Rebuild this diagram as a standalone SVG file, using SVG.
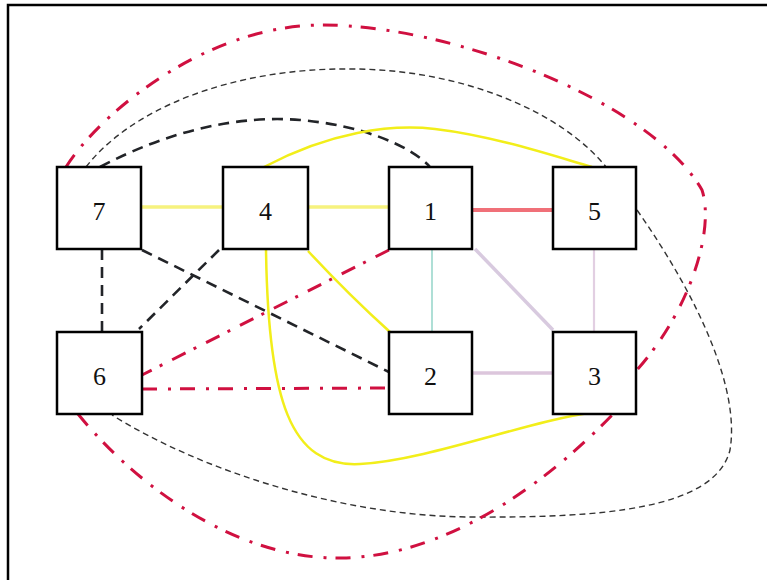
<svg xmlns="http://www.w3.org/2000/svg" width="767" height="580" viewBox="0 0 767 580">
  <style>
    .node rect { fill: #ffffff; stroke: #000000; stroke-width: 2.5; }
    .node text { font-family: "Liberation Serif", "Times New Roman", serif; font-size: 26px; fill: #111111; text-anchor: middle; }
    .edge { fill: none; }
    .yl { stroke: #f2ee1a; stroke-width: 2.5; }
    .ylp { stroke: #f6f27e; stroke-width: 3.5; }
    .rd { stroke: #d01040; stroke-width: 3; stroke-dasharray: 15 11 3 9; }
    .bk { stroke: #222428; stroke-width: 2.6; stroke-dasharray: 11 7; }
    .thin { stroke: #333333; stroke-width: 1.4; stroke-dasharray: 6 4; }
  </style>

  <rect x="0" y="0" width="767" height="580" fill="#ffffff"/>
  <!-- outer frame -->
  <rect x="8" y="5" width="780" height="600" fill="none" stroke="#000000" stroke-width="2.5"/>

  <g id="connectors">
    <!-- straight links between neighbouring boxes -->
    <line class="edge ylp" x1="142" y1="207" x2="223" y2="207"/>
    <line class="edge ylp" x1="308" y1="207" x2="389" y2="207"/>
    <line class="edge" x1="472" y1="210" x2="553" y2="210" stroke="#f07078" stroke-width="4"/>
    <line class="edge" x1="432" y1="249" x2="432" y2="332" stroke="#a6dcd2" stroke-width="1.8"/>
    <line class="edge" x1="594" y1="249" x2="594" y2="332" stroke="#e2cfe2" stroke-width="2.2"/>
    <line class="edge" x1="475" y1="249" x2="553" y2="330" stroke="#d8cadf" stroke-width="3.5"/>
    <line class="edge" x1="472" y1="373" x2="553" y2="373" stroke="#dcc6dc" stroke-width="3.5"/>

    <!-- black dashed links -->
    <line class="edge bk" x1="102" y1="249" x2="102" y2="332"/>
    <line class="edge bk" x1="142" y1="250" x2="389" y2="372"/>
    <line class="edge bk" x1="219" y1="250" x2="139" y2="329"/>
    <path class="edge bk" d="M100,167 C170,130 240,115 300,120 C360,125 410,145 430,167"/>

    <!-- thin dashed links -->
    <path class="edge thin" d="M86,167 C130,110 230,67 355,69 C460,70 560,110 606,167"/>
    <path class="edge thin" d="M637,210 C700,300 740,390 730,450 C715,510 600,518 470,517 C340,516 200,470 112,415"/>

    <!-- red dash-dot links -->
    <line class="edge rd" x1="389" y1="250" x2="142" y2="375"/>
    <line class="edge rd" x1="142" y1="389" x2="389" y2="388"/>
    <path class="edge rd" d="M66,167 C95,120 200,25 323,25 C450,25 650,100 702,190 C715,230 690,310 637,370"/>
    <path class="edge rd" d="M78,414 C140,490 240,560 342,558 C450,556 550,480 614,413"/>

    <!-- yellow curves -->
    <path class="edge yl" d="M264,167 C330,132 390,124 435,129 C495,136 560,158 592,167"/>
    <path class="edge yl" d="M308,251 C335,280 360,305 390,332"/>
    <path class="edge yl" d="M266,249 C268,400 290,468 360,464 C430,460 530,420 596,412"/>
  </g>

  <g id="node-7" class="node"><rect x="57" y="167" width="84" height="82"/><text x="99" y="220">7</text></g>
  <g id="node-4" class="node"><rect x="223" y="167" width="85" height="82"/><text x="265.5" y="220">4</text></g>
  <g id="node-1" class="node"><rect x="389" y="167" width="83" height="82"/><text x="430.5" y="220">1</text></g>
  <g id="node-5" class="node"><rect x="553" y="167" width="83" height="82"/><text x="594.5" y="220">5</text></g>
  <g id="node-6" class="node"><rect x="57" y="332" width="85" height="82"/><text x="99.5" y="385">6</text></g>
  <g id="node-2" class="node"><rect x="389" y="332" width="83" height="82"/><text x="430.5" y="385">2</text></g>
  <g id="node-3" class="node"><rect x="553" y="332" width="83" height="82"/><text x="594.5" y="385">3</text></g>
</svg>
